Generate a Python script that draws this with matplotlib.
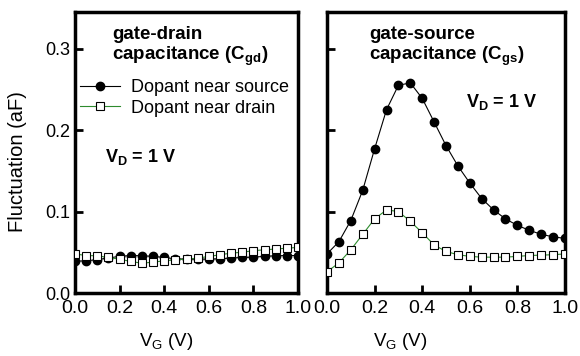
import numpy as np
import matplotlib
matplotlib.use("Agg")
import matplotlib.pyplot as plt

plt.rcParams['font.family'] = 'Liberation Sans'
plt.rcParams['mathtext.fontset'] = 'custom'
plt.rcParams['mathtext.rm'] = 'Liberation Sans'
plt.rcParams['mathtext.it'] = 'Liberation Sans'
plt.rcParams['mathtext.bf'] = 'Liberation Sans:bold'

vg = [0.0, 0.05, 0.1, 0.15, 0.2, 0.25, 0.3, 0.35, 0.4, 0.45, 0.5,
      0.55, 0.6, 0.65, 0.7, 0.75, 0.8, 0.85, 0.9, 0.95, 1.0]

# gate-drain capacitance fluctuation (aF)
cgd_source = [0.039, 0.0395, 0.041, 0.043, 0.045, 0.046, 0.0457, 0.045, 0.0436, 0.042, 0.0416,
              0.0416, 0.0416, 0.042, 0.043, 0.0436, 0.044, 0.045, 0.0457, 0.046, 0.046]
cgd_drain = [0.048, 0.046, 0.0457, 0.0436, 0.0416, 0.0387, 0.0366, 0.0379, 0.0395, 0.0407, 0.0416,
             0.0428, 0.0449, 0.0469, 0.049, 0.050, 0.052, 0.053, 0.054, 0.055, 0.056]

# gate-source capacitance fluctuation (aF)
cgs_source = [0.048, 0.063, 0.089, 0.126, 0.177, 0.225, 0.255, 0.258, 0.239, 0.210, 0.181,
              0.156, 0.135, 0.116, 0.102, 0.091, 0.083, 0.077, 0.072, 0.069, 0.067]
cgs_drain = [0.026, 0.037, 0.053, 0.072, 0.091, 0.102, 0.100, 0.088, 0.074, 0.059, 0.051,
             0.047, 0.045, 0.044, 0.044, 0.044, 0.045, 0.046, 0.0465, 0.047, 0.048]

xticks = [0.0, 0.2, 0.4, 0.6, 0.8, 1.0]
yticks = [0.0, 0.1, 0.2, 0.3]

W, H = 580, 356
fig = plt.figure(figsize=(W / 100, H / 100), dpi=100)

def px(x, y):
    # pixel position (from top-left) -> figure fraction
    return x / W, 1 - y / H

ax1 = fig.add_axes([75 / W, 1 - 293 / H, 223 / W, 281 / H])
ax2 = fig.add_axes([327 / W, 1 - 293 / H, 238 / W, 281 / H])

def draw(ax, src, drn):
    ax.plot(vg, src, '-', color='black', lw=0.8, marker='o', ms=6,
            mfc='black', mec='black', label='Dopant near source', zorder=3)
    ax.plot(vg, drn, '-', color='#2e8b2e', lw=0.8, marker='s', ms=5.2,
            mfc='white', mec='black', mew=0.8, label='Dopant near drain', zorder=4)
    ax.set_xlim(0, 1.0)
    ax.set_ylim(0, 0.345)
    ax.set_xticks(xticks)
    ax.set_yticks(yticks)
    ax.tick_params(direction='in', width=2, length=6, labelsize=13)
    ax.tick_params(axis='x', labelsize=14, pad=5)
    for s in ax.spines.values():
        s.set_linewidth(2.5)

draw(ax1, cgd_source, cgd_drain)
draw(ax2, cgs_source, cgs_drain)
ax2.set_yticklabels([])

fig.text(*px(17.5, 162), 'Fluctuation (aF)', fontsize=14.5, rotation=90,
         ha='center', va='center')
fig.text(*px(166, 341), r'V$_\mathregular{G}$ (V)', fontsize=13.5, ha='center', va='center')
fig.text(*px(400, 341), r'V$_\mathregular{G}$ (V)', fontsize=13.5, ha='center', va='center')

fig.text(*px(112, 26), 'gate-drain\ncapacitance (C$_\\mathbf{gd}$)', fontsize=13.5,
         fontweight='bold', va='top', ha='left', linespacing=1.12)
fig.text(*px(105, 157), r'$\mathbf{V}_\mathbf{D}$ = 1 V', fontsize=13,
         fontweight='bold', va='center', ha='left')
fig.text(*px(369, 26), 'gate-source\ncapacitance (C$_\\mathbf{gs}$)', fontsize=13.5,
         fontweight='bold', va='top', ha='left', linespacing=1.12)
fig.text(*px(466, 102), r'$\mathbf{V}_\mathbf{D}$ = 1 V', fontsize=13,
         fontweight='bold', va='center', ha='left')

ax1.legend(loc='upper left', bbox_to_anchor=px(80, 79), bbox_transform=fig.transFigure,
           frameon=False, fontsize=13, handlelength=2.2, handletextpad=0.65,
           labelspacing=0.2, borderaxespad=0, borderpad=0)

fig.savefig('out.png', dpi=100)
